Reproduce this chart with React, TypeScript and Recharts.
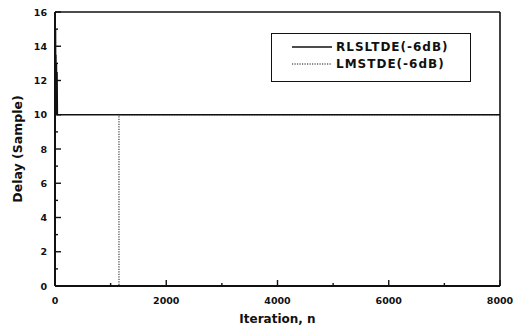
import { Legend, Line, LineChart, XAxis, YAxis } from "recharts";

// iteration ticks (every 1000, labelled every 2000) and delay ticks
const xTicks = [0, 1000, 2000, 3000, 4000, 5000, 6000, 7000, 8000];
const yTicks = [0, 1, 2, 3, 4, 5, 6, 7, 8, 9, 10, 11, 12, 13, 14, 15, 16];

// RLS settles within the first few dozen iterations, LMS jumps at ~1150
const rlsIter = [0, 3, 6, 9, 12, 16, 20, 25, 30, 36, 42, 50, 8000];
const rlsDelay = [0, 16, 12, 15, 11, 13.5, 10.5, 13, 10, 12.5, 10, 10, 10];
const lmsIter = [0, 1150, 1150, 8000];
const lmsDelay = [0, 0, 10, 10];

const series = [
  { name: "RLSLTDE(-6dB)", dash: undefined as string | undefined, width: 1.6 },
  { name: "LMSTDE(-6dB)", dash: "1.2 1.3", width: 1 },
];

const rlsData = rlsIter.map((x, i) => ({ x, y: rlsDelay[i] }));
const lmsData = lmsIter.map((x, i) => ({ x, y: lmsDelay[i] }));

const FONT = "'DejaVu Sans', sans-serif";
const INK = "#111";

function BottomTick({ x, y, payload }: any) {
  const major = payload.value % 2000 === 0;
  return (
    <g>
      <line x1={x} x2={x} y1={y} y2={y - (major ? 6 : 3)} stroke={INK} strokeWidth={1.4} />
      {major && (
        <text x={x} y={y + 18} textAnchor="middle" fontFamily={FONT} fontWeight="bold" fontSize={9.5} fill={INK}>
          {payload.value}
        </text>
      )}
    </g>
  );
}

function TopTick({ x, y, payload }: any) {
  const major = payload.value % 2000 === 0;
  return <line x1={x} x2={x} y1={y} y2={y + (major ? 5 : 3)} stroke={INK} strokeWidth={1.2} />;
}

function LeftTick({ x, y, payload }: any) {
  const major = payload.value % 2 === 0;
  return (
    <g>
      <line x1={x} x2={x + (major ? 6 : 3)} y1={y} y2={y} stroke={INK} strokeWidth={1.4} />
      {major && (
        <text x={x - 8} y={y + 3.5} textAnchor="end" fontFamily={FONT} fontWeight="bold" fontSize={9.5} fill={INK}>
          {payload.value}
        </text>
      )}
    </g>
  );
}

function RightTick({ x, y, payload }: any) {
  const major = payload.value % 2 === 0;
  return <line x1={x} x2={x - (major ? 5 : 3)} y1={y} y2={y} stroke={INK} strokeWidth={1.2} />;
}

function LegendBox() {
  return (
    <div
      style={{
        border: `1.6px solid ${INK}`,
        background: "#fff",
        padding: "4px 0 5px 20px",
        fontFamily: FONT,
        fontWeight: "bold",
        fontSize: 12,
        letterSpacing: 1,
        color: INK,
        boxSizing: "border-box",
        height: 49,
      }}
    >
      {series.map((s) => (
        <div key={s.name} style={{ display: "flex", alignItems: "center", height: 17 }}>
          <svg width={42} height={10} style={{ marginRight: 2 }}>
            <line x1={0} x2={40} y1={5} y2={5} stroke={INK} strokeWidth={s.width} strokeDasharray={s.dash} />
          </svg>
          <span>{s.name}</span>
        </div>
      ))}
    </div>
  );
}

export default function App() {
  return (
    <div style={{ position: "absolute", left: 0, top: 0, width: 513, height: 329, background: "#fff" }}>
      <LineChart width={513} height={329} margin={{ top: 11, right: 12, bottom: 0, left: 0 }}>
        <XAxis
          xAxisId="b"
          type="number"
          dataKey="x"
          domain={[0, 8000]}
          ticks={xTicks}
          interval={0}
          height={43}
          tickSize={0}
          tickMargin={0}
          tickLine={false}
          axisLine={{ stroke: INK, strokeWidth: 2 }}
          tick={<BottomTick />}
          label={({ viewBox }: any) => (
            <text
              x={viewBox.x + viewBox.width / 2}
              y={viewBox.y + 37}
              textAnchor="middle"
              fontFamily={FONT}
              fontWeight="bold"
              fontSize={12}
              fill={INK}
            >
              Iteration, n
            </text>
          )}
        />
        <XAxis
          xAxisId="t"
          orientation="top"
          type="number"
          dataKey="x"
          domain={[0, 8000]}
          ticks={xTicks}
          interval={0}
          height={1}
          tickSize={0}
          tickMargin={0}
          tickLine={false}
          axisLine={{ stroke: INK, strokeWidth: 1.6 }}
          tick={<TopTick />}
        />
        <YAxis
          yAxisId="l"
          type="number"
          domain={[0, 16]}
          ticks={yTicks}
          interval={0}
          width={55}
          tickSize={0}
          tickMargin={0}
          tickLine={false}
          axisLine={{ stroke: INK, strokeWidth: 2 }}
          tick={<LeftTick />}
          label={({ viewBox }: any) => {
            const cx = 17;
            const cy = viewBox.y + viewBox.height / 2;
            return (
              <text
                x={cx}
                y={cy}
                transform={`rotate(-90 ${cx} ${cy})`}
                textAnchor="middle"
                dominantBaseline="central"
                fontFamily={FONT}
                fontWeight="bold"
                fontSize={12.5}
                fill={INK}
              >
                Delay (Sample)
              </text>
            );
          }}
        />
        <YAxis
          yAxisId="r"
          orientation="right"
          type="number"
          domain={[0, 16]}
          ticks={yTicks}
          interval={0}
          width={1}
          tickSize={0}
          tickMargin={0}
          tickLine={false}
          axisLine={{ stroke: INK, strokeWidth: 1.6 }}
          tick={<RightTick />}
        />
        <Line
          xAxisId="b"
          yAxisId="l"
          data={lmsData}
          dataKey="y"
          type="linear"
          stroke={INK}
          strokeWidth={1}
          strokeDasharray="1.2 1.3"
          dot={false}
          isAnimationActive={false}
        />
        <Line
          xAxisId="b"
          yAxisId="l"
          data={rlsData}
          dataKey="y"
          type="linear"
          stroke={INK}
          strokeWidth={1.6}
          dot={false}
          isAnimationActive={false}
        />
        <Legend
          layout="horizontal"
          verticalAlign="middle"
          align="center"
          content={() => <LegendBox />}
          wrapperStyle={{ position: "absolute", left: 271, top: 33, width: 200 }}
        />
      </LineChart>
    </div>
  );
}
